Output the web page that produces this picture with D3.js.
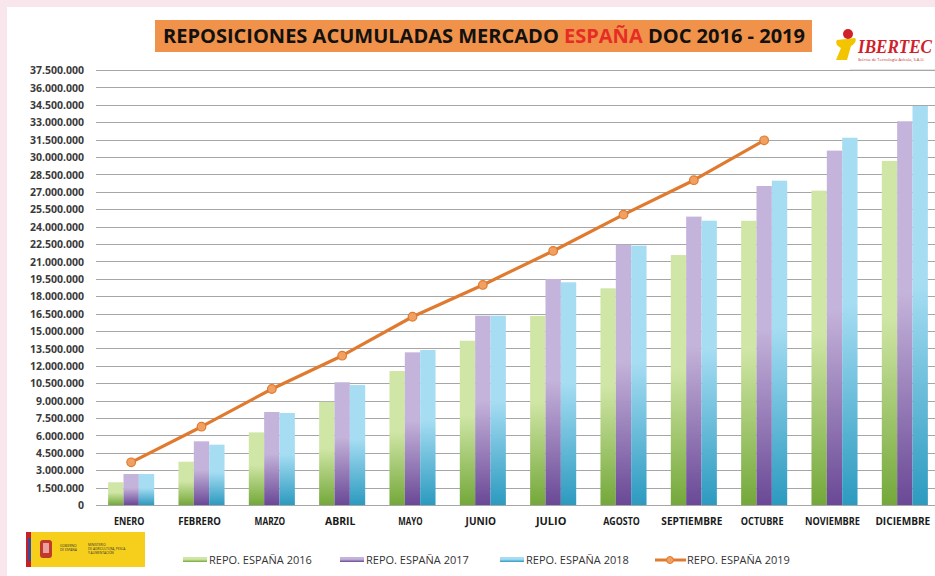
<!DOCTYPE html>
<html>
<head>
<meta charset="utf-8">
<script src="https://cdn.jsdelivr.net/npm/d3@7/dist/d3.min.js"></script>
<style>
  html, body { margin: 0; padding: 0; background: #f9e6ec; }
  svg { display: block; }
</style>
</head>
<body>
<svg id="chart" width="935" height="576"></svg>
<script>
const months = ['ENERO', 'FEBRERO', 'MARZO', 'ABRIL', 'MAYO', 'JUNIO', 'JULIO', 'AGOSTO',
  'SEPTIEMBRE', 'OCTUBRE', 'NOVIEMBRE', 'DICIEMBRE'];
const repo2016 = [1960000, 3730000, 6260000, 8900000, 11550000, 14160000, 16300000, 18680000,
  21550000, 24500000, 27100000, 29660000];
const repo2017 = [2670000, 5490000, 8020000, 10580000, 13160000, 16320000, 19480000, 22440000,
  24860000, 27500000, 30550000, 33080000];
const repo2018 = [2670000, 5200000, 7930000, 10340000, 13360000, 16320000, 19200000, 22360000,
  24510000, 27960000, 31660000, 34400000];
const repo2019 = [3680000, 6750000, 10000000, 12870000, 16230000, 18970000, 21900000, 25030000,
  28000000, 31440000];
const seriesNames = ['REPO. ESPAÑA 2016', 'REPO. ESPAÑA 2017', 'REPO. ESPAÑA 2018', 'REPO. ESPAÑA 2019'];
const yTicks = d3.range(0, 37500001, 1500000);

const svg = d3.select('#chart');
const width = 935;
const height = 576;

// white panel on pink page
svg.append('rect').attr('x', 7).attr('y', 7).attr('width', width).attr('height', height)
  .attr('fill', '#ffffff');

const defs = svg.append('defs');
const grads = [
  { id: 'g16', top: '#d0e6a6', bottom: '#74a83a' },
  { id: 'g17', top: '#c4b3da', bottom: '#6a4896' },
  { id: 'g18', top: '#a6ddf3', bottom: '#2c9abf' },
];
grads.forEach((g) => {
  const lg = defs.append('linearGradient').attr('id', g.id)
    .attr('x1', 0).attr('y1', 0).attr('x2', 0).attr('y2', 1);
  lg.append('stop').attr('offset', '0%').attr('stop-color', g.top);
  lg.append('stop').attr('offset', '45%').attr('stop-color', g.top);
  lg.append('stop').attr('offset', '100%').attr('stop-color', g.bottom);
});

const locale = d3.formatLocale({ decimal: ',', thousands: '.', grouping: [3], currency: ['', '€'] });
const fmt = locale.format(',d');

const x0 = d3.scaleBand().domain(months).range([96, 940]).paddingInner(0.345).paddingOuter(0.1725);
const x1 = d3.scaleBand().domain([0, 1, 2]).range([0, x0.bandwidth()]);
const y = d3.scaleLinear().domain([0, 37500000]).range([505, 70]);

// gridlines
svg.append('g')
  .selectAll('line')
  .data(yTicks)
  .join('line')
  .attr('x1', 96).attr('x2', 940)
  .attr('y1', (d) => Math.round(y(d)) + 0.5).attr('y2', (d) => Math.round(y(d)) + 0.5)
  .attr('stroke', '#a6a6a6').attr('stroke-width', 1.2);

// y labels
const yAxis = svg.append('g').attr('transform', 'translate(84,0)')
  .call(d3.axisLeft(y).tickValues(yTicks).tickFormat(fmt).tickSize(0).tickPadding(0));
yAxis.select('.domain').remove();
yAxis.selectAll('text')
  .attr('font-family', 'Open Sans, sans-serif').attr('font-weight', 700)
  .attr('font-size', 10.5).attr('fill', '#3a3a3a').attr('dy', '0.35em');

// bars
const allSeries = [repo2016, repo2017, repo2018];
const groups = svg.append('g')
  .selectAll('g')
  .data(months)
  .join('g')
  .attr('transform', (d) => `translate(${x0(d)},0)`);
groups.selectAll('rect')
  .data((d, i) => allSeries.map((s, k) => ({ k, v: s[i] })))
  .join('rect')
  .attr('x', (d) => x1(d.k))
  .attr('width', x1.bandwidth())
  .attr('y', (d) => y(d.v))
  .attr('height', (d) => y(0) - y(d.v))
  .attr('fill', (d) => `url(#${grads[d.k].id})`);

// x labels
const xAxis = svg.append('g').attr('transform', 'translate(-2,505)')
  .call(d3.axisBottom(x0).tickSize(0).tickPadding(13));
xAxis.select('.domain').remove();
xAxis.selectAll('text')
  .attr('font-family', 'Open Sans, sans-serif').attr('font-weight', 700)
  .attr('font-size', 10.5).attr('fill', '#1a1a1a')
  .attr('textLength', function (d) { return Math.min(d.length * 6.1, 65); })
  .attr('lengthAdjust', 'spacingAndGlyphs');

// 2019 line
const cx = (d, i) => x0(months[i]) + x0.bandwidth() / 2;
svg.append('path')
  .datum(repo2019)
  .attr('fill', 'none').attr('stroke', '#e07a2e').attr('stroke-width', 3.2)
  .attr('stroke-linejoin', 'round')
  .attr('d', d3.line().x(cx).y((d) => y(d)));
svg.append('g')
  .selectAll('circle')
  .data(repo2019)
  .join('circle')
  .attr('cx', cx).attr('cy', (d) => y(d)).attr('r', 4.3)
  .attr('fill', '#f0a060').attr('stroke', '#e07a2e').attr('stroke-width', 1.2);

// title
svg.append('rect').attr('x', 155).attr('y', 20).attr('width', 657).attr('height', 32)
  .attr('fill', '#f0924a');
const title = svg.append('text').attr('x', 163).attr('y', 43)
  .attr('font-family', 'Open Sans, sans-serif').attr('font-weight', 700).attr('font-size', 19)
  .attr('fill', '#111')
  .attr('textLength', 642).attr('lengthAdjust', 'spacingAndGlyphs');
title.append('tspan').text('REPOSICIONES ACUMULADAS MERCADO  ');
title.append('tspan').attr('fill', '#e62d25').text('ESPAÑA');
title.append('tspan').text('  DOC 2016 - 2019');

// IBERTEC logo
const logo = svg.append('g').attr('transform', 'translate(834,26)');
logo.append('path')
  .attr('d', 'M3,14 L21,12 C23,14 21,18 17,20 L13,34 L2,34 L7,22 C3,20 1,17 3,14 Z')
  .attr('fill', '#f2c500');
logo.append('circle').attr('cx', 14).attr('cy', 8).attr('r', 5).attr('fill', '#d0202a');
logo.append('text').attr('x', 24).attr('y', 27)
  .attr('font-family', 'Liberation Serif, serif').attr('font-weight', 700).attr('font-style', 'italic')
  .attr('font-size', 18).attr('fill', '#d0202a')
  .attr('textLength', 74).attr('lengthAdjust', 'spacingAndGlyphs').text('IBERTEC');
logo.append('text').attr('x', 24).attr('y', 35)
  .attr('font-family', 'Open Sans, sans-serif').attr('font-size', 4).attr('fill', '#c03030')
  .text('Ibérica de Tecnología Avícola, S.A.U.');
svg.append('line').attr('x1', 850).attr('x2', 935).attr('y1', 69.5).attr('y2', 69.5)
  .attr('stroke', '#e4e4e4');

// government logo
const gob = svg.append('g').attr('transform', 'translate(26,532)');
gob.append('rect').attr('width', 119).attr('height', 35).attr('fill', '#f5cf1c');
gob.append('rect').attr('width', 5).attr('height', 35).attr('fill', '#c8202a');
gob.append('rect').attr('x', 2).attr('y', 6).attr('width', 3).attr('height', 23).attr('fill', '#3a4a9a');
gob.append('rect').attr('x', 14).attr('y', 8).attr('width', 12).attr('height', 18).attr('rx', 3)
  .attr('fill', '#c0392b');
gob.append('rect').attr('x', 17).attr('y', 11).attr('width', 6).attr('height', 10).attr('fill', '#e8a0a0');
[['GOBIERNO', 15], ['DE ESPAÑA', 19]].forEach(([t, yy]) => {
  gob.append('text').attr('x', 34).attr('y', yy).attr('font-family', 'Open Sans, sans-serif')
    .attr('font-size', 3.2).attr('fill', '#333').text(t);
});
[['MINISTERIO', 14], ['DE AGRICULTURA, PESCA', 18], ['Y ALIMENTACIÓN', 22]].forEach(([t, yy]) => {
  gob.append('text').attr('x', 62).attr('y', yy).attr('font-family', 'Open Sans, sans-serif')
    .attr('font-size', 3.2).attr('fill', '#333').text(t);
});

// legend
const legend = svg.append('g');
const legendItems = [
  { x: 183, k: 0 }, { x: 340, k: 1 }, { x: 500, k: 2 }, { x: 655, k: 3 },
];
legendItems.forEach((it, i) => {
  const g = legend.append('g').attr('transform', `translate(${it.x},560)`);
  if (it.k < 3) {
    g.append('rect').attr('x', 0).attr('y', -3).attr('width', 24).attr('height', 5)
      .attr('fill', `url(#${grads[it.k].id})`);
  } else {
    g.append('line').attr('x1', 0).attr('x2', 31).attr('y1', 0).attr('y2', 0)
      .attr('stroke', '#e07a2e').attr('stroke-width', 3);
    g.append('circle').attr('cx', 15).attr('cy', 0).attr('r', 3.5)
      .attr('fill', '#f0a060').attr('stroke', '#e07a2e');
  }
  g.append('text').attr('x', it.k < 3 ? 26 : 32).attr('y', 4)
    .attr('font-family', 'Open Sans, sans-serif').attr('font-size', 11).attr('fill', '#333')
    .text(seriesNames[i]);
});
</script>
</body>
</html>
